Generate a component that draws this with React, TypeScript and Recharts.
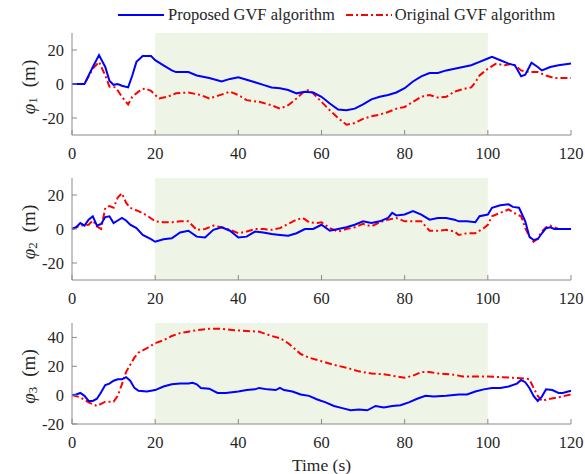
import {
  Legend,
  Line,
  LineChart,
  ReferenceArea,
  XAxis,
  YAxis,
} from 'recharts'

const FONT = '"Liberation Serif", "DejaVu Serif", serif'
const BLUE = '#0000ff'
const RED = '#ff0000'
const BOX = '#8a8a8a'
const SHADE = '#eef4e6'
const TEXT = '#262626'
const RED_DASH = '7 3 2 3'

const timeTicks = [0, 20, 40, 60, 80, 100, 120]
const shadeStart = 20
const shadeEnd = 100

// phi_1
const phi1ProposedT = [0, 3, 5, 6.5, 8, 9, 10, 11, 12, 13.5, 14.5, 15.5, 17, 19, 20, 22, 24, 25, 28, 30, 33, 36, 38, 40, 42, 44, 46, 48, 50, 52, 54, 56, 58, 60, 62, 64, 66, 68, 70, 72, 74, 76, 78, 80, 82, 84, 86, 88, 90, 92, 94, 96, 98, 100, 101, 103, 105, 106.5, 108, 109, 110.5, 112, 113, 115, 117, 120]
const phi1ProposedV = [0, 0, 10, 17, 10, 2, -0.5, 0, -1, -2, 5, 13, 16.5, 16.5, 14, 11, 8, 7, 7, 5, 3.5, 1.5, 3, 4, 2.5, 1, -0.5, -2, -2.5, -3.5, -5.5, -4.5, -5, -7.5, -11.5, -15, -15.5, -14.5, -12, -9, -7.5, -6.5, -5, -2.5, 1.5, 4.5, 6.5, 6.5, 8, 9, 10, 11, 13, 15, 16, 14, 12, 11, 4.5, 5.5, 12.5, 10, 8, 10, 11, 12]
const phi1OriginalT = [0, 3, 5, 6.5, 8, 9, 10.5, 12, 13.5, 14.5, 16, 17.5, 19, 20, 21, 23, 25, 28, 31, 33, 35, 38, 40, 42, 45, 48, 50, 52, 54, 56, 57, 58, 60, 62, 64, 66, 68, 70, 72, 74, 76, 78, 80, 82, 84, 86, 88, 90, 92, 94, 96, 97, 98, 100, 102, 104, 106, 108, 110, 112, 114, 116, 118, 120]
const phi1OriginalV = [0, 0, 9, 13, 5, -1.5, -2, -7.5, -12, -7.5, -4.5, -2.5, -4, -6.5, -8.5, -7.5, -5.5, -5, -6.5, -8.5, -7, -4.5, -6.5, -9.5, -10.5, -12.5, -14.5, -12.5, -8.5, -4, -3.5, -5.5, -10.5, -15.5, -20, -24, -23, -20.5, -19, -18, -16.5, -14.5, -13.5, -10.5, -7.5, -6.5, -8, -7.5, -4.5, -3, -2, 1, 5, 9, 12, 11, 12, 8, 7, 7, 5, 3.5, 3.5, 3.5]

// phi_2
const phi2ProposedT = [0, 1, 2, 3, 4, 5, 6, 7, 8, 9, 10, 11, 12, 13, 14, 15.5, 17, 19, 20, 22, 24, 26, 28, 30, 32, 34, 36, 38, 40, 42, 44, 46, 48, 50, 52, 54, 56, 58, 60, 62, 64, 66, 68, 70, 72, 74, 76, 77, 78, 80, 82, 84, 86, 88, 90, 92, 93, 95, 97, 98, 100, 101, 103, 105, 106, 107.5, 109, 110, 111, 112, 113, 114, 115, 116, 120]
const phi2ProposedV = [0, 1, 3.5, 2, 5.5, 7.5, 2, 3, 7, 7.5, 3.5, 5, 6.5, 5, 2.5, 0.5, -3.5, -6, -7.5, -6, -5.5, -2, -1, -4.5, -5, -0.5, 1, -1, -5, -4.5, -1.5, -2, -3, -3.5, -4, -2.5, 0, 0, 2.5, -1, 0, 1, 2.5, 4.5, 3.5, 4.5, 6.5, 9.5, 8, 8.5, 10.5, 8.5, 5.5, 6.5, 6.5, 5.5, 4.5, 4.5, 4, 7.5, 8.5, 12.5, 14, 14.5, 13, 12.5, 4.5, -4.5, -6.5, -6, -2.5, 0.5, 1, 0, 0]
const phi2OriginalT = [0, 2, 4, 5, 6, 7, 8, 9, 10, 11, 12, 13, 14, 16, 18, 20, 22, 24, 26, 28, 30, 32, 34, 36, 38, 40, 42, 44, 46, 48, 50, 52, 54, 55.5, 57, 59, 60, 62, 64, 66, 68, 70, 72, 74, 76, 78, 80, 82, 84, 86, 88, 90, 92, 93, 95, 97, 99, 100, 101, 103, 105, 107, 108, 109, 110, 111, 112, 113, 114, 115, 116, 117, 120]
const phi2OriginalV = [0, 2, 2.5, 5, 1.5, 0, 12.5, 13.5, 12.5, 18.5, 21, 15.5, 12.5, 10.5, 8, 4.5, 4, 4, 4.5, 4.5, -0.5, 0, 2, 1, -0.5, -2.5, -1.5, 0, 0, -0.5, 0.5, 3, 5.5, 6.5, 4, 3.5, 4, 0.5, -1.5, 0, 1, 3, 1.5, 4, 5.5, 6.5, 4.5, 4.5, 4.5, -1, -1, -0.5, -1.5, -3.5, -2.5, -2.5, 0.5, 2.5, 7.5, 9.5, 11.5, 8.5, 7.5, 0.5, -4.5, -7.5, -5.5, -1.5, 1, 2, 1, 0, 0]

// phi_3
const phi3ProposedT = [0, 1, 2, 3, 4, 5, 6, 7, 8, 9, 10, 11, 12, 13, 14, 15, 16, 18, 20, 22, 24, 26, 28, 29, 30, 31, 33, 35, 37, 40, 42, 44, 45, 47, 49, 50, 51, 53, 55, 57, 59, 61, 63, 65, 67, 69, 71, 73, 75, 77, 79, 81, 83, 85, 87, 90, 93, 95, 97, 99, 101, 103, 105, 107, 108, 109, 110, 111, 112, 113, 114, 115.5, 117, 118, 120]
const phi3ProposedV = [0, 0.5, 1.5, -0.5, -4, -4, -2.5, 2, 7, 8, 10, 11, 11, 12.5, 10, 5, 3, 2.5, 3.5, 6, 7.5, 8, 8, 8.5, 7.5, 5, 4.5, 1.5, 1.5, 2.5, 3.5, 4, 5, 4, 3.5, 5, 3.5, 2.5, 0.5, -0.5, -3, -5, -7.5, -9, -10.5, -10, -10.5, -7.5, -8.5, -7.5, -7, -5, -2.5, -0.5, -1, -0.5, 0.5, 0.5, 2.5, 4, 5, 5, 6, 8, 10.5, 9, 5, -0.5, -4, -1, 4, 3.5, 1.5, 1.5, 3]
const phi3OriginalT = [0, 2, 4, 6, 7, 8, 10, 11, 12, 13, 14, 15, 16, 18, 20, 22, 24, 26, 28, 30, 33, 36, 39, 42, 45, 48, 50, 52, 53, 55, 57, 60, 63, 66, 69, 72, 75, 78, 80, 82, 84, 86, 88, 91, 94, 97, 100, 103, 106, 109, 110, 111, 112, 113, 115, 117, 120]
const phi3OriginalV = [0, -1.5, -5, -7.5, -6, -4.5, -4.5, -0.5, 7.5, 16, 21, 26, 29.5, 32.5, 36, 38, 41, 43, 44, 45, 46, 46, 45, 44.5, 44, 41, 39.5, 36, 33.5, 28.5, 26, 23.5, 21, 19, 16.5, 15, 14.5, 13, 12, 13.5, 16, 16, 15, 14.5, 13, 13, 13, 12.5, 12, 11.5, 11, 5, -0.5, -4, -2.5, -1.5, 0.5]

const zip = (t: number[], v: number[]) => t.map((x, i) => ({ t: x, v: v[i] }))

function XTick(props: any) {
  const { x, y, payload } = props
  return (
    <text x={x} y={y} dy="0.71em" textAnchor="middle" fontFamily={FONT} fontSize={16.5} fill={TEXT}>
      {payload.value}
    </text>
  )
}

function YTick(props: any) {
  const { x, y, payload } = props
  return (
    <text x={x} y={y} dy="0.355em" textAnchor="end" fontFamily={FONT} fontSize={16.5} fill={TEXT}>
      {payload.value}
    </text>
  )
}

function LegendContent() {
  return (
    <div style={{ display: 'flex', alignItems: 'center', paddingLeft: 118, fontFamily: FONT, fontSize: 16.5, color: TEXT, lineHeight: '20px' }}>
      <svg width={46} height={6} style={{ marginRight: 4 }}>
        <line x1={0} y1={3} x2={46} y2={3} stroke={BLUE} strokeWidth={2} />
      </svg>
      <span>Proposed GVF algorithm</span>
      <svg width={46} height={6} style={{ marginLeft: 11, marginRight: 3 }}>
        <line x1={0} y1={3} x2={46} y2={3} stroke={RED} strokeWidth={2} strokeDasharray={RED_DASH} />
      </svg>
      <span>Original GVF algorithm</span>
    </div>
  )
}

type PanelProps = {
  top: number
  height: number
  plotHeight: number
  sub: string
  yDomain: [number, number]
  yTicks: number[]
  proposed: { t: number; v: number }[]
  original: { t: number; v: number }[]
  legend?: boolean
  timeLabel?: boolean
}

function Panel({ top, height, plotHeight, sub, yDomain, yTicks, proposed, original, legend, timeLabel }: PanelProps) {
  const marginTop = 33
  const yLabel = (props: any) => {
    const vb = props.viewBox ?? { x: 0, y: marginTop, width: 72, height: plotHeight }
    const cx = vb.x + 28
    const cy = vb.y + vb.height / 2 + 3
    return (
      <text x={cx} y={cy} transform={`rotate(-90 ${cx} ${cy})`} textAnchor="middle" dominantBaseline="central" fontFamily={FONT} fontSize={19} fill={TEXT}>
        <tspan fontStyle="italic">φ</tspan>
        <tspan fontSize={13} dy={4}>{sub}</tspan>
        <tspan dy={-4} dx={10}>(m)</tspan>
      </text>
    )
  }
  const xLabel = (props: any) => {
    const vb = props.viewBox ?? { x: 72, y: top + marginTop + plotHeight, width: 499, height: 50 }
    return (
      <text x={vb.x + vb.width / 2} y={vb.y + 41} textAnchor="middle" dominantBaseline="central" fontFamily={FONT} fontSize={17.5} fill={TEXT}>
        Time (s)
      </text>
    )
  }

  return (
    <div style={{ position: 'absolute', left: 0, top }}>
      <LineChart width={585} height={height} margin={{ top: marginTop, right: 14, bottom: 0, left: 0 }} style={{ fontFamily: FONT }}>
        <XAxis
          dataKey="t"
          type="number"
          domain={[0, 120]}
          ticks={timeTicks}
          height={height - marginTop - plotHeight}
          stroke={BOX}
          tickSize={-5}
          tickMargin={17}
          tick={XTick}
          label={timeLabel ? xLabel : undefined}
        />
        <XAxis
          xAxisId="top"
          orientation="top"
          type="number"
          domain={[0, 120]}
          ticks={timeTicks}
          height={0}
          stroke={BOX}
          tickSize={-5}
          tickFormatter={() => ''}
        />
        <YAxis
          type="number"
          domain={yDomain}
          ticks={yTicks}
          width={72}
          stroke={BOX}
          tickSize={-5}
          tickMargin={13}
          tick={YTick}
          label={yLabel}
        />
        <YAxis
          yAxisId="right"
          orientation="right"
          type="number"
          domain={yDomain}
          ticks={yTicks}
          width={0}
          stroke={BOX}
          tickSize={-5}
          tickFormatter={() => ''}
        />
        <ReferenceArea x1={shadeStart} x2={shadeEnd} fill={SHADE} fillOpacity={1} stroke="none" />
        <Line data={original} dataKey="v" type="linear" stroke={RED} strokeWidth={2} strokeDasharray={RED_DASH} dot={false} isAnimationActive={false} />
        <Line data={proposed} dataKey="v" type="linear" stroke={BLUE} strokeWidth={2} dot={false} isAnimationActive={false} />
        {legend && (
          <Legend verticalAlign="middle" align="center" content={LegendContent} wrapperStyle={{ top: 5, left: 0, width: 585 }} />
        )}
      </LineChart>
    </div>
  )
}

export default function App() {
  return (
    <div style={{ position: 'absolute', left: 0, top: 0, width: 585, height: 474, background: '#fff' }}>
      <Panel top={0} height={165} plotHeight={102} sub="1" yDomain={[-30, 30]} yTicks={[-20, 0, 20]} proposed={zip(phi1ProposedT, phi1ProposedV)} original={zip(phi1OriginalT, phi1OriginalV)} legend />
      <Panel top={145} height={165} plotHeight={102} sub="2" yDomain={[-30, 30]} yTicks={[-20, 0, 20]} proposed={zip(phi2ProposedT, phi2ProposedV)} original={zip(phi2OriginalT, phi2OriginalV)} />
      <Panel top={290} height={184} plotHeight={101} sub="3" yDomain={[-20, 50]} yTicks={[-20, 0, 20, 40]} proposed={zip(phi3ProposedT, phi3ProposedV)} original={zip(phi3OriginalT, phi3OriginalV)} timeLabel />
    </div>
  )
}
